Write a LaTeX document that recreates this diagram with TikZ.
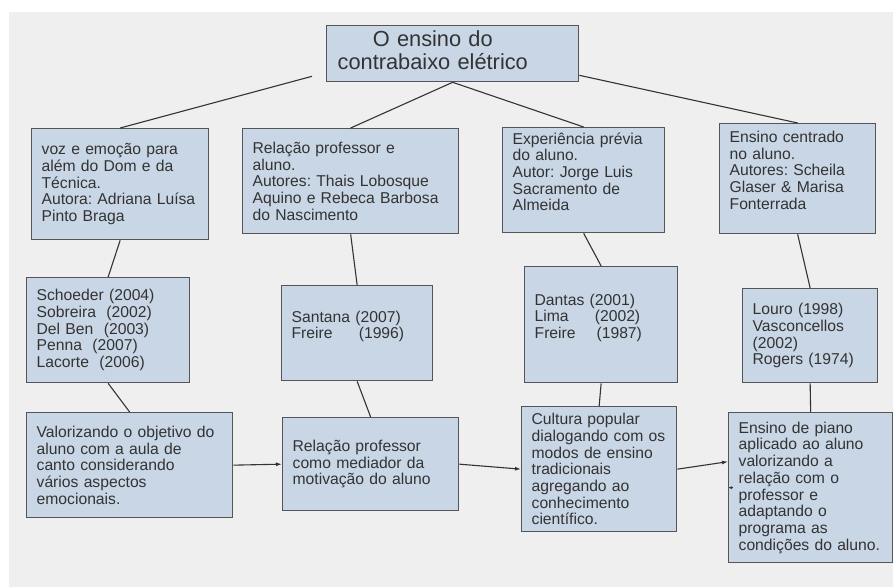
\documentclass[tikz,border=0pt]{standalone}
\usepackage{fontspec}
\setmainfont{Liberation Sans}
\frenchspacing
\usetikzlibrary{arrows.meta}
\definecolor{boxfill}{HTML}{C9D6E5}
\definecolor{boxline}{HTML}{555555}
\definecolor{ink}{HTML}{333333}
\definecolor{paper}{HTML}{EFEFEF}
\begin{document}
\begin{tikzpicture}[x=1pt, y=-1pt, inner sep=0pt, >={Latex[length=6pt,width=4pt]}]
\tikzstyle{every node}=[draw=boxline, line width=1.3pt, fill=boxfill, text=ink, anchor=north west, align=left, inner xsep=10pt, font=\fontsize{15.7}{16.7}\selectfont]
\tikzstyle{link}=[draw=ink, line width=1.1pt]
\useasboundingbox (0,0) rectangle (893,587);
\fill[paper] (9,12) rectangle (893,587);

\node[minimum width=252pt, minimum height=56pt, inner xsep=11pt, text width=230pt, font=\fontsize{21.8}{23}\selectfont] (title) at (326,25)
	{\begin{tabular}{@{}c@{}}O ensino do\\contrabaixo elétrico\end{tabular}};

\node[minimum width=177pt, minimum height=111pt, text width=157pt] (voz) at (31,128)
	{voz e emoção para\\além do Dom e da\\Técnica.\\Autora: Adriana Luísa\\Pinto Braga};
\node[minimum width=216pt, minimum height=105pt, text width=196pt] (relacao) at (242,128)
	{Relação professor e\\aluno.\\Autores: Thais Lobosque\\Aquino e Rebeca Barbosa\\do Nascimento};
\node[minimum width=162pt, minimum height=105pt, text width=142pt] (previa) at (502,127)
	{Experiência prévia\\do aluno.\\Autor: Jorge Luis\\Sacramento de\\Almeida\\\mbox{}};
\node[minimum width=156pt, minimum height=110pt, text width=136pt] (centrado) at (719,123)
	{Ensino centrado\\no aluno.\\Autores: Scheila\\Glaser \& Marisa\\Fonterrada\\\mbox{}};

\node[minimum width=163pt, minimum height=105pt, text width=143pt] (refvoz) at (26,277)
	{Schoeder (2004)\\Sobreira~ (2002)\\Del Ben~ (2003)\\Penna~ (2007)\\Lacorte~ (2006)};
\node[minimum width=151pt, minimum height=95pt, text width=131pt] (refrelacao) at (281,285)
	{Santana (2007)\\Freire~~~~~(1996)\\\mbox{}};
\node[minimum width=153pt, minimum height=116pt, text width=133pt] (refprevia) at (524,266)
	{Dantas (2001)\\Lima~~~~~(2002)\\Freire~~~~(1987)\\\mbox{}};
\node[minimum width=135pt, minimum height=94pt, text width=115pt] (refcentrado) at (742,288)
	{Louro (1998)\\Vasconcellos\\(2002)\\Rogers (1974)};

\node[minimum width=206pt, minimum height=105pt, text width=186pt] (canto) at (26,412)
	{Valorizando o objetivo do\\aluno com a aula de\\canto considerando\\vários aspectos\\emocionais.};
\node[minimum width=176pt, minimum height=93pt, text width=156pt] (mediador) at (282,417)
	{Relação professor\\como mediador da\\motivação do aluno};
\node[minimum width=155pt, minimum height=125pt, text width=135pt] (cultura) at (521,406)
	{Cultura popular\\dialogando com os\\modos de ensino\\tradicionais\\agregando ao\\conhecimento\\científico.};
\node[minimum width=164pt, minimum height=150pt, text width=144pt] (piano) at (728,412)
	{Ensino de piano\\aplicado ao aluno\\valorizando a\\relação com o\\professor e\\adaptando o\\programa as\\condições do aluno.};

\draw[link] ([xshift=-14pt,yshift=6pt]title.south west) -- (voz.north);
\draw[link] (title.south) -- (relacao.north);
\draw[link] (title.south) -- (previa.north);
\draw[link] ([yshift=7pt]title.south east) -- (centrado.north);

\draw[link] (voz.south) -- (refvoz.north);
\draw[link] (relacao.south) -- (refrelacao.north);
\draw[link] (previa.south) -- (refprevia.north);
\draw[link] (centrado.south) -- (refcentrado.north);

\draw[link] (refvoz.south) -- (canto.north);
\draw[link] (refrelacao.south) -- (mediador.north);
\draw[link] (refprevia.south) -- (cultura.north);
\draw[link] (refcentrado.south) -- (piano.north);

\draw[link,->] (canto.east) -- (mediador.west);
\draw[link,->] (mediador.east) -- (cultura.west);
\draw[link,->] (cultura.east) -- ([yshift=26pt]piano.west);
\draw[link,-{Latex[length=4pt,width=3pt]}] ([xshift=5pt]piano.west) -- (piano.west);
\end{tikzpicture}
\end{document}
